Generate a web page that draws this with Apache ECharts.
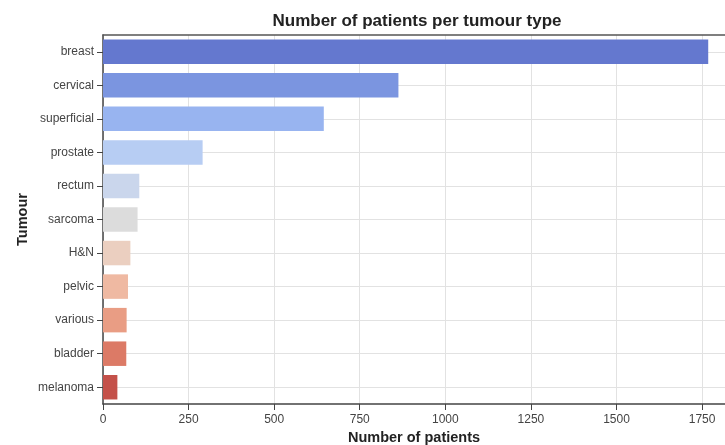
<!DOCTYPE html>
<html>
<head>
<meta charset="utf-8">
<script src="https://cdn.jsdelivr.net/npm/echarts@6/dist/echarts.min.js"></script>
<style>html,body{margin:0;padding:0;background:#fff}#c{width:725px;height:445px}</style>
</head>
<body>
<div id="c"></div>
<script>
const categories = ['breast','cervical','superficial','prostate','rectum','sarcoma','H&N','pelvic','various','bladder','melanoma'];
const patients = [1768, 863, 645, 291, 106, 101, 80, 73, 69, 68, 42];
const barColors = ['#6478cf','#7b95e0','#98b4f0','#b7cdf3','#cad6ec','#dcdcdc','#ebcfc0','#efb9a2','#e99d84','#dc7a66','#c4514a'];
const xTicks = [0,250,500,750,1000,1250,1500,1750];

const chart = echarts.init(document.getElementById('c'));
const font = 'Liberation Sans, Arial, sans-serif';
chart.setOption({
  animation: false,
  title: {
    text: 'Number of patients per tumour type',
    left: 412, top: 8, textAlign: 'center',
    textStyle: {fontFamily: font, fontSize: 17, fontWeight: 'bold', color: '#222'}
  },
  grid: {left: 103, right: 0, top: 35, bottom: 41, outerBoundsMode: 'none', containLabel: false},
  xAxis: [{
    type: 'value', min: 0, max: 1817, interval: 250,
    name: 'Number of patients', nameLocation: 'middle', nameGap: 26,
    nameTextStyle: {fontFamily: font, fontSize: 14.5, fontWeight: 'bold', color: '#222'},
    axisLine: {show: true, lineStyle: {color: '#444', width: 1.5}},
    axisTick: {show: true, length: 6, lineStyle: {color: '#444'}},
    axisLabel: {fontFamily: font, fontSize: 12, color: '#444', margin: 10, showMaxLabel: false,
      formatter: v => xTicks.includes(v) ? String(v) : ''},
    splitLine: {show: true, lineStyle: {color: '#e2e2e2', width: 1}}
  }, {
    type: 'value', position: 'top', min: 0, max: 1817,
    axisLine: {show: true, lineStyle: {color: '#555', width: 1.5}},
    axisTick: {show: false}, axisLabel: {show: false}, splitLine: {show: false}
  }],
  yAxis: {
    type: 'category', data: categories, inverse: true,
    name: 'Tumour', nameLocation: 'middle', nameGap: 73, nameRotate: 90, nameMoveOverlap: false,
    nameTextStyle: {fontFamily: font, fontSize: 14.5, fontWeight: 'bold', color: '#222'},
    axisLine: {show: true, lineStyle: {color: '#444', width: 1.5}},
    axisTick: {show: true, alignWithLabel: true, length: 6, lineStyle: {color: '#444'}},
    axisLabel: {fontFamily: font, fontSize: 12, color: '#444', margin: 9},
    splitLine: {show: true, alignWithLabel: true, lineStyle: {color: '#e2e2e2', width: 1}}
  },
  series: [{
    type: 'bar', xAxisIndex: 0,
    data: patients.map((v, i) => ({value: v, itemStyle: {color: barColors[i]}})),
    barCategoryGap: '27%'
  }]
});
</script>
</body>
</html>
